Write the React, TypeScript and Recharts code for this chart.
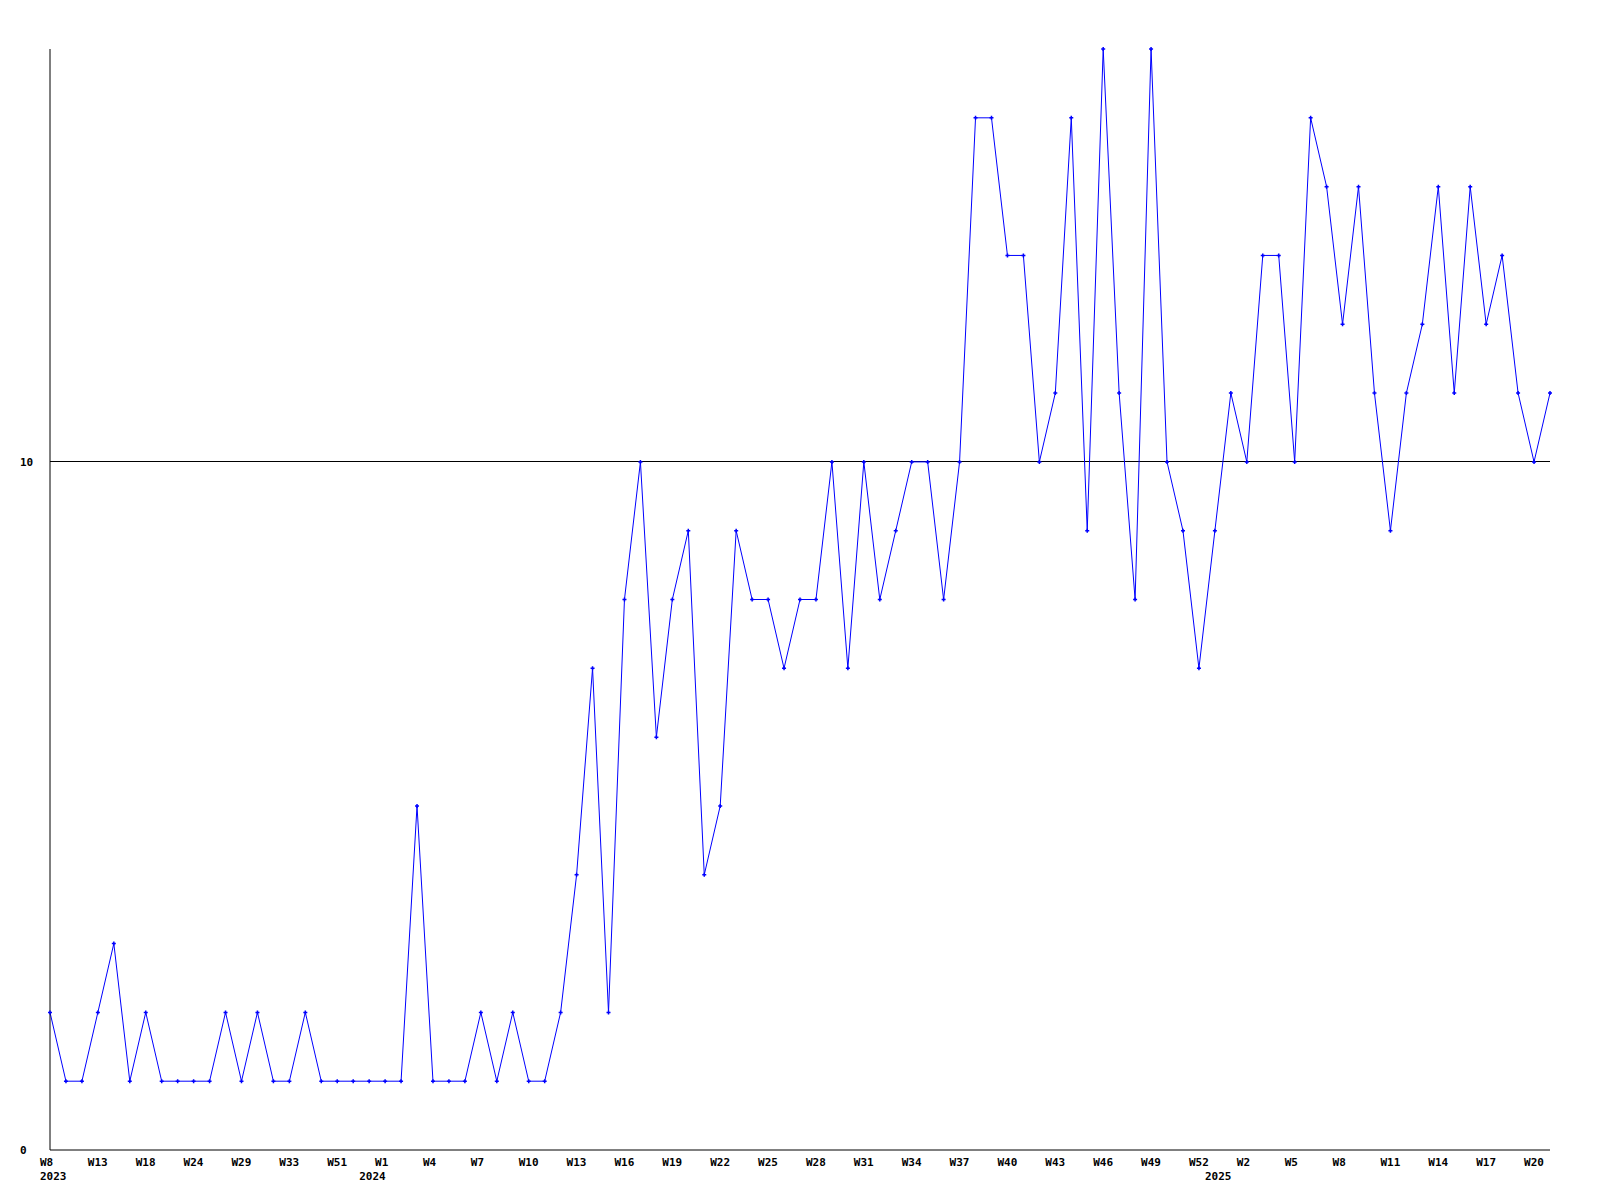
import React from "react";
import { LineChart, Line, XAxis, YAxis, ReferenceLine } from "recharts";

// weekly counts, one point per week shown on the x axis
const values = [
  2, 1, 1, 2, 3, 1, 2, 1, 1, 1, 1, 2, 1, 2, 1, 1, 2, 1, 1, 1,
  1, 1, 1, 5, 1, 1, 1, 2, 1, 2, 1, 1, 2, 4, 7, 2, 8, 10, 6, 8,
  9, 4, 5, 9, 8, 8, 7, 8, 8, 10, 7, 10, 8, 9, 10, 10, 8, 10, 15, 15,
  13, 13, 10, 11, 15, 9, 16, 11, 8, 16, 10, 9, 7, 9, 11, 10, 13, 13, 10, 15,
  14, 12, 14, 11, 9, 11, 12, 14, 11, 14, 12, 13, 11, 10, 11,
];

// a week label on every third point
const weekLabels = [
  "W8", "W13", "W18", "W24", "W29", "W33", "W51", "W1", "W4", "W7", "W10",
  "W13", "W16", "W19", "W22", "W25", "W28", "W31", "W34", "W37", "W40", "W43",
  "W46", "W49", "W52", "W2", "W5", "W8", "W11", "W14", "W17", "W20",
];
const labelStep = 3;

// year shown under the point where it starts
const yearStarts: Record<number, string> = { 0: "2023", 20: "2024", 73: "2025" };

const yTicks = [0, 10];
const guideValue = 10;

const data = values.map((v, i) => ({ i, v }));
const xTicks = data.map((d) => d.i);

const font = { fontFamily: "'DejaVu Sans Mono', monospace", fontWeight: 700, fontSize: 11 };

const XTick = (props: any) => {
  const { x, y, payload } = props;
  const idx = payload.value as number;
  const week = idx % labelStep === 0 ? weekLabels[idx / labelStep] : undefined;
  const year = yearStarts[idx];
  return (
    <g>
      {week && (
        <text x={x - 10} y={y + 16} textAnchor="start" fill="#000" style={font}>
          {week}
        </text>
      )}
      {year && (
        <text x={x - 10} y={y + 30} textAnchor="start" fill="#000" style={font}>
          {year}
        </text>
      )}
    </g>
  );
};

const YTick = (props: any) => {
  const { x, y, payload } = props;
  return (
    <text x={x - 30} y={y + 4} textAnchor="start" fill="#000" style={font}>
      {payload.value}
    </text>
  );
};

const Marker = (props: any) => {
  const { cx, cy } = props;
  if (cx == null || cy == null) return null;
  return (
    <path
      d={`M${cx - 2},${cy}H${cx + 2}M${cx},${cy - 2}V${cy + 2}`}
      stroke="#0000ff"
      strokeWidth={1.5}
      fill="none"
    />
  );
};

export default function App() {
  return (
    <div style={{ position: "absolute", left: 0, top: 0, background: "#fff" }}>
      <LineChart width={1600} height={1200} data={data} margin={{ top: 49, right: 50, bottom: 0, left: 0 }}>
        <XAxis
          type="number"
          dataKey="i"
          domain={[0, values.length - 1]}
          ticks={xTicks}
          interval={0}
          height={50}
          tickSize={0}
          tickMargin={0}
          tickLine={false}
          axisLine={{ stroke: "#000", strokeWidth: 1 }}
          tick={<XTick />}
        />
        <YAxis
          domain={[0, 16]}
          ticks={yTicks}
          width={50}
          tickSize={0}
          tickMargin={0}
          tickLine={false}
          axisLine={{ stroke: "#000", strokeWidth: 1 }}
          tick={<YTick />}
        />
        <ReferenceLine y={guideValue} stroke="#000" strokeWidth={1} shapeRendering="crispEdges" />
        <Line
          type="linear"
          dataKey="v"
          stroke="#0000ff"
          strokeWidth={1}
          dot={<Marker />}
          activeDot={false}
          isAnimationActive={false}
        />
      </LineChart>
    </div>
  );
}
